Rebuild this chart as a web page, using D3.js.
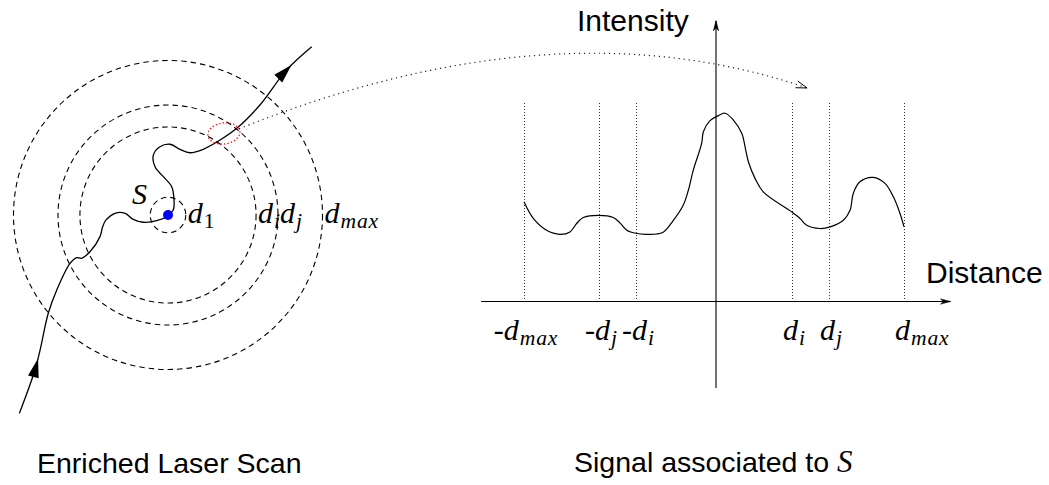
<!DOCTYPE html>
<html>
<head>
<meta charset="utf-8">
<script src="https://cdn.jsdelivr.net/npm/d3@7"></script>
<style>
body{margin:0;background:#fff;}
</style>
</head>
<body>
<script>
// ---- left panel : laser scan around S (unit = d_max) ----
var ringNames = ["1", "i", "j", "max"];
var ringRadius = [0.115, 0.57, 0.712, 1];

var scanU = [-0.962,-0.861,-0.828,-0.775,-0.720,-0.634,-0.591,-0.559,-0.505,-0.440,-0.423,-0.401,-0.343,-0.278,-0.225,-0.160,-0.073,-0.008,0.034,0.039,0.024,-0.030,-0.084,-0.095,-0.052,0.013,0.078,0.142,0.228,0.337,0.445,0.595,0.768,0.930];
var scanV = [-1.284,-1.003,-0.874,-0.636,-0.485,-0.313,-0.276,-0.280,-0.238,-0.140,-0.076,-0.032,0.011,0.011,-0.028,-0.047,-0.037,-0.011,0.032,0.097,0.183,0.248,0.312,0.388,0.442,0.458,0.425,0.403,0.425,0.485,0.561,0.712,0.939,1.089];
var scanArrowU = [-0.85, 0.807];
var scanArrowV = [-0.928, 0.964];

var focusCenter = [0.362, 0.528];
var focusRadius = [0.104, 0.068];

// ---- right panel : signal ----
var tickDist = [-1, -0.605, -0.41, 0.41, 0.605, 1];
var tickSign = ["-", "-", "-", "", "", ""];
var tickSub = ["max", "j", "i", "i", "j", "max"];

var signalDist = [-1.0,-0.951,-0.881,-0.811,-0.758,-0.723,-0.688,-0.607,-0.53,-0.495,-0.459,-0.407,-0.354,-0.27,-0.214,-0.162,-0.135,-0.109,-0.065,-0.056,-0.021,0.023,0.058,0.102,0.146,0.167,0.181,0.216,0.259,0.409,0.453,0.488,0.558,0.611,0.681,0.716,0.733,0.768,0.838,0.9,0.944,0.979,1.0];
var signalIntensity = [0.497,0.414,0.355,0.335,0.347,0.389,0.419,0.43,0.419,0.392,0.355,0.339,0.335,0.344,0.405,0.48,0.555,0.655,0.789,0.847,0.902,0.927,0.939,0.905,0.839,0.755,0.697,0.614,0.547,0.447,0.414,0.38,0.364,0.372,0.405,0.455,0.539,0.597,0.619,0.589,0.522,0.439,0.372];

var sansFont = "'Liberation Sans', Arial, Helvetica, sans-serif";
var mathFont = "'Liberation Serif', 'Times New Roman', serif";

var svg = d3.select("body")
			.append("svg")
			.attr("width", 1049)
			.attr("height", 485);

// scales
var leftX = d3.scaleLinear().domain([-1, 1]).range([13.5, 322.5]);
var leftY = d3.scaleLinear().domain([-1, 1]).range([369.5, 60.5]);
var leftR = d3.scaleLinear().domain([0, 1]).range([0, 154.5]);

var distX = d3.scaleLinear().domain([-1, 1]).range([524, 904]);
var intY = d3.scaleLinear().domain([0, 1]).range([301.5, 101]);

// math label: [prefix]d_sub
var mathLabel = function(g, x, y, prefix, sub, size, anchor){
	var t = g.append("text")
			.attr("x", x)
			.attr("y", y)
			.attr("text-anchor", anchor || "start")
			.attr("font-family", mathFont)
			.attr("font-size", size)
			.attr("fill", "#000");
	if(prefix)
		t.append("tspan").text(prefix);
	t.append("tspan").attr("font-style", "italic").text("d");
	t.append("tspan")
		.attr("font-style", sub == "1" ? "normal" : "italic")
		.attr("font-size", size * 0.72)
		.attr("dx", 1)
		.attr("dy", size * 0.18)
		.attr("letter-spacing", sub == "max" ? 0.8 : 0)
		.text(sub);
	return t;
};

var openArrow = function(g, tipX, tipY, ang, len, half){
	var bx = tipX - len * Math.cos(ang), by = tipY - len * Math.sin(ang);
	var nx = -Math.sin(ang) * half, ny = Math.cos(ang) * half;
	g.append("path")
		.attr("d", "M" + (bx + nx) + "," + (by + ny) + "L" + tipX + "," + tipY + "L" + (bx - nx) + "," + (by - ny))
		.attr("fill", "none")
		.attr("stroke", "#000")
		.attr("stroke-width", 1);
};

var stealthArrow = function(g, tipX, tipY, ang, len, half){
	var c = Math.cos(ang), s = Math.sin(ang);
	var pts = [[0, 0], [-len, -half], [-len * 0.7, 0], [-len, half]].map(function(p){
		return [tipX + p[0] * c - p[1] * s, tipY + p[0] * s + p[1] * c];
	});
	g.append("path")
		.attr("d", "M" + pts.join("L") + "Z")
		.attr("fill", "#000")
		.attr("stroke", "#000")
		.attr("stroke-width", 0.6);
};

// ================= left panel =================
var left = svg.append("g");
var cx = leftX(0), cy = leftY(0);

left.selectAll("circle.ring")
	.data(ringRadius)
	.enter()
	.append("circle")
	.attr("class", "ring")
	.attr("cx", cx)
	.attr("cy", cy)
	.attr("r", function(d){ return leftR(d); })
	.attr("fill", "none")
	.attr("stroke", "#000")
	.attr("stroke-width", 1.1)
	.attr("stroke-dasharray", "5.5,4");

ringRadius.forEach(function(r, i){
	mathLabel(left, cx + leftR(r) + 2, cy + 8, "", ringNames[i], 30);
});

left.append("text")
	.attr("x", cx - 36)
	.attr("y", cy - 11)
	.attr("font-family", mathFont)
	.attr("font-style", "italic")
	.attr("font-size", 30)
	.text("S");

var scanPts = scanU.map(function(u, i){ return [leftX(u), leftY(scanV[i])]; });
var scanLine = d3.line().curve(d3.curveCatmullRom.alpha(0.5));
var scanPath = left.append("path")
	.attr("d", scanLine(scanPts))
	.attr("fill", "none")
	.attr("stroke", "#000")
	.attr("stroke-width", 1.3);

// filled arrowheads along the scan
var pathNode = scanPath.node();
var total = pathNode.getTotalLength();
scanArrowU.forEach(function(u, k){
	var tx = leftX(u), ty = leftY(scanArrowV[k]);
	var best = 0, bestD = 1e9;
	for(var l = 0; l <= total; l += 0.5){
		var p = pathNode.getPointAtLength(l);
		var dd = (p.x - tx) * (p.x - tx) + (p.y - ty) * (p.y - ty);
		if(dd < bestD){ bestD = dd; best = l; }
	}
	var p0 = pathNode.getPointAtLength(Math.max(0, best - 8));
	var p1 = pathNode.getPointAtLength(Math.min(total, best + 1));
	var tip = pathNode.getPointAtLength(best);
	var ang = Math.atan2(p1.y - p0.y, p1.x - p0.x);
	var c = Math.cos(ang), s = Math.sin(ang);
	var pts = [[0, 0], [-19, -5.5], [-19, 5.5]].map(function(q){
		return [tip.x + q[0] * c - q[1] * s, tip.y + q[0] * s + q[1] * c];
	});
	left.append("path")
		.attr("d", "M" + pts.join("L") + "Z")
		.attr("fill", "#000");
});

left.append("circle")
	.attr("cx", cx)
	.attr("cy", cy)
	.attr("r", 5)
	.attr("fill", "#0000ff");

// red focus ellipse
var fx = leftX(focusCenter[0]), fy = leftY(focusCenter[1]);
var frx = leftR(focusRadius[0]), fry = leftR(focusRadius[1]);
left.append("ellipse")
	.attr("cx", fx)
	.attr("cy", fy)
	.attr("rx", frx)
	.attr("ry", fry)
	.attr("transform", "rotate(-8," + fx + "," + fy + ")")
	.attr("fill", "none")
	.attr("stroke", "#ff1a1a")
	.attr("stroke-width", 1.3)
	.attr("stroke-dasharray", "1.5,2");

// ================= right panel =================
var right = svg.append("g");

var axis = d3.axisBottom(distX)
			.tickValues(tickDist)
			.tickSize(-(intY(0) - intY(1)))
			.tickFormat("");
var axisG = right.append("g")
			.attr("transform", "translate(0," + intY(0) + ")")
			.call(axis);
axisG.select(".domain").remove();
axisG.selectAll(".tick line")
	.attr("stroke", "#333")
	.attr("stroke-width", 1)
	.attr("shape-rendering", "crispEdges")
	.attr("stroke-dasharray", "1,2");

// axes with arrows
var xLeftEnd = distX(-1.226), xRightEnd = distX(1.245);
right.append("line")
	.attr("x1", xLeftEnd).attr("x2", xRightEnd)
	.attr("y1", intY(0)).attr("y2", intY(0))
	.attr("stroke", "#000").attr("stroke-width", 1.1);
stealthArrow(right, xRightEnd, intY(0), 0, 10, 2.6);

var yTop = intY(1.4), yBot = intY(-0.432);
right.append("line")
	.attr("x1", distX(0) + 2).attr("x2", distX(0) + 2)
	.attr("y1", yBot).attr("y2", yTop)
	.attr("stroke", "#000").attr("stroke-width", 1.1);
stealthArrow(right, distX(0) + 2, yTop, -Math.PI / 2, 10, 2.6);

// signal curve
var sigLine = d3.line()
			.x(function(d, i){ return distX(d); })
			.y(function(d, i){ return intY(signalIntensity[i]); })
			.curve(d3.curveCatmullRom.alpha(0.5));
right.append("path")
	.attr("d", sigLine(signalDist))
	.attr("fill", "none")
	.attr("stroke", "#000")
	.attr("stroke-width", 1.2);

// tick labels: negatives centred on their line, positives start just left of it
tickDist.forEach(function(d, i){
	if(d < 0)
		mathLabel(right, distX(d) + 2, 340, tickSign[i], tickSub[i], 30, "middle");
	else
		mathLabel(right, distX(d) - 9, 340, tickSign[i], tickSub[i], 30, "start");
});

right.append("text")
	.attr("x", 577).attr("y", 31)
	.attr("font-family", sansFont).attr("font-size", 30)
	.text("Intensity");
right.append("text")
	.attr("x", 926).attr("y", 283)
	.attr("font-family", sansFont).attr("font-size", 30)
	.text("Distance");

// dotted link from focus to signal
var sx = fx + frx * Math.cos(0.35), sy = fy - fry * Math.sin(0.35) - 1;
var ex = distX(0.49), ey = intY(1.065);
var link = d3.path();
link.moveTo(sx, sy);
link.quadraticCurveTo(555, 2, ex, ey);
svg.append("path")
	.attr("d", link.toString())
	.attr("fill", "none")
	.attr("stroke", "#222")
	.attr("stroke-width", 1.2)
	.attr("stroke-dasharray", "1.2,3.8");
openArrow(svg, ex, ey, Math.atan2(ey - 2, ex - 555), 11, 3.5);

// captions
svg.append("text")
	.attr("x", 37).attr("y", 473)
	.attr("font-family", sansFont).attr("font-size", 28.5)
	.text("Enriched Laser Scan");
var cap = svg.append("text")
	.attr("x", 574).attr("y", 472)
	.attr("font-family", sansFont).attr("font-size", 28.5);
cap.append("tspan").text("Signal associated to ");
cap.append("tspan")
	.attr("font-family", mathFont)
	.attr("font-style", "italic")
	.attr("font-size", 31)
	.text("S");
</script>
</body>
</html>
